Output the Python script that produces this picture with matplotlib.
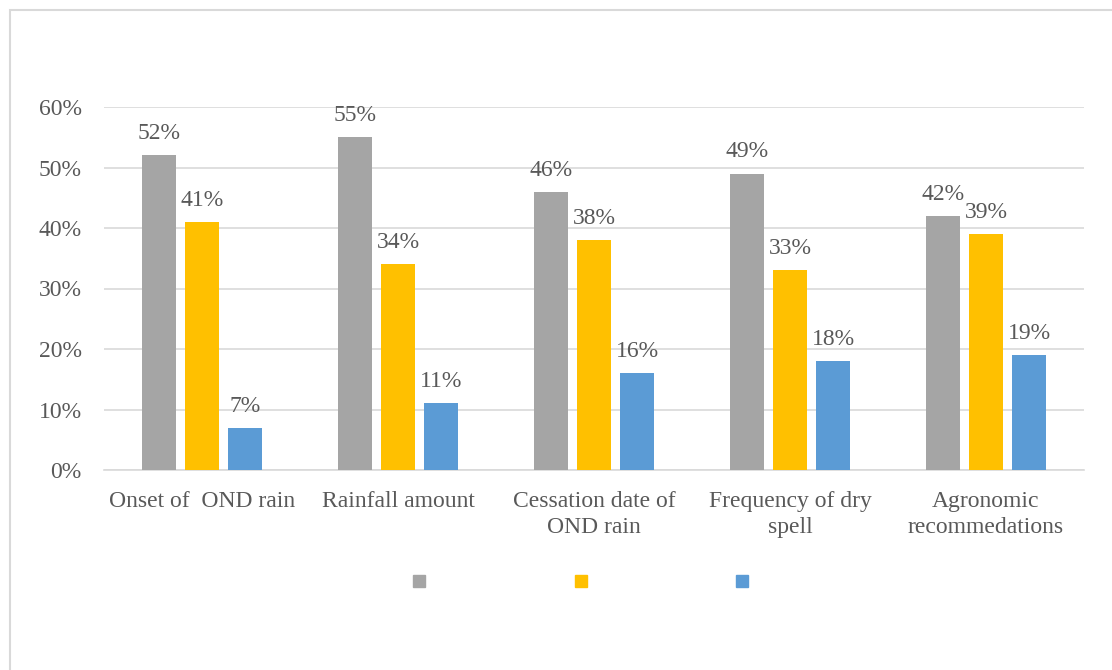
import matplotlib
matplotlib.use("Agg")
import matplotlib.pyplot as plt
import numpy as np
from matplotlib.lines import Line2D
from matplotlib.patches import Rectangle

categories = ["Onset of  OND rain", "Rainfall amount", "Cessation date of\nOND rain",
              "Frequency of dry\nspell", "Agronomic\nrecommedations"]
series_a = [52, 55, 46, 49, 42]
series_b = [41, 34, 38, 33, 39]
series_c = [7, 11, 16, 18, 19]
yticks = [0, 10, 20, 30, 40, 50, 60]

colors = ["#A5A5A5", "#FFC000", "#5B9BD5"]
text_color = "#595959"
grid_color = "#D9D9D9"

plt.rcParams['font.family'] = ['Liberation Serif', 'DejaVu Serif']
fs = 17

fig = plt.figure(figsize=(11.12, 6.70), dpi=100)
ax = fig.add_axes([104/1112, 1-470/670, (1084-104)/1112, (470-107)/670])

x = np.arange(len(categories))
slot = 0.221
width = 0.173
for i, (vals, c) in enumerate(zip([series_a, series_b, series_c], colors)):
    pos = x + (i - 1) * slot
    bars = ax.bar(pos, vals, width=width, color=c, zorder=3)
    for b, v in zip(bars, vals):
        ax.annotate(f"{v}%", (b.get_x() + b.get_width()/2, v), xytext=(0, 8),
                    textcoords="offset points", ha="center", va="bottom",
                    fontsize=fs, color=text_color)

ax.set_xlim(-0.5, len(categories) - 0.5)
ax.set_ylim(0, 60)
ax.set_yticks(yticks)
ax.set_yticklabels([f"{t}%" for t in yticks], fontsize=fs, color=text_color)
ax.set_xticks(x)
ax.set_xticklabels(categories, fontsize=fs, color=text_color, linespacing=1.32)
ax.tick_params(axis="both", length=0)
ax.tick_params(axis="x", pad=15)
ax.tick_params(axis="y", pad=16)
ax.yaxis.grid(True, color=grid_color, linewidth=1.2, zorder=0)
for s in ["top", "right", "left"]:
    ax.spines[s].set_visible(False)
ax.spines["bottom"].set_color(grid_color)
ax.spines["bottom"].set_linewidth(1.2)
ax.set_axisbelow(True)

handles = [Line2D([], [], marker="s", linestyle="none", markersize=9,
                  markerfacecolor=c, markeredgecolor=c) for c in colors]
fig.legend(handles, ["", "", ""], loc="center", bbox_to_anchor=(580.5/1112, 1-583/670),
           ncol=3, frameon=False, fontsize=fs, handlelength=0.6, handletextpad=0.0,
           columnspacing=6.25)

fig.patches.append(Rectangle((10/1112, -0.1), 1.2, 1.1 - 10/670, transform=fig.transFigure,
                             fill=False, edgecolor=grid_color, linewidth=1.5))

fig.savefig("out.png", dpi=100)
